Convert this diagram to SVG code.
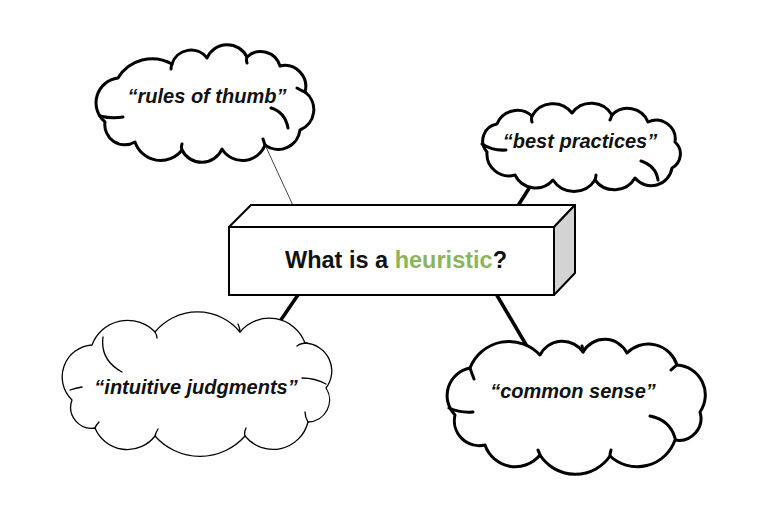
<svg xmlns="http://www.w3.org/2000/svg" width="784" height="532" viewBox="0 0 784 532">
<style>
.cloud{fill:#fff;stroke:#000;stroke-width:3;stroke-linejoin:round;stroke-linecap:round}
.cloud.thin{stroke-width:1.3}
.curl{fill:none;stroke:#000;stroke-width:3;stroke-linecap:round}
.curl.thin{stroke-width:1.3}
.lbl{font-family:"Liberation Sans",Arial,Helvetica,sans-serif;font-weight:bold;font-style:italic;font-size:20px;text-anchor:middle;fill:#111}
.title{font-family:"Liberation Sans",Arial,Helvetica,sans-serif;font-weight:bold;font-size:23.5px;text-anchor:middle;fill:#111}
.conn{stroke:#000;stroke-width:3.5;stroke-linecap:butt}
</style>
<rect width="784" height="532" fill="#fff"/>
<g id="connectors">
<line x1="266" y1="147" x2="296" y2="212" stroke="#444" stroke-width="1"/>
<line class="conn" x1="533" y1="182" x2="514" y2="212"/>
<line class="conn" x1="300" y1="292" x2="276" y2="327"/>
<line class="conn" x1="495" y1="292" x2="528" y2="348"/>
</g>
<g id="box">
<polygon points="229,227 251,205 575,205 554,227" fill="#fff" stroke="#000" stroke-width="2" stroke-linejoin="round"/>
<polygon points="554,227 575,205 575,273 554,295" fill="#d3d3d3" stroke="#000" stroke-width="2" stroke-linejoin="round"/>
<rect x="229" y="227" width="325" height="68" fill="#fff" stroke="#000" stroke-width="2"/>
<text class="title" x="396" y="268">What is a <tspan fill="#8db35e">heuristic</tspan>?</text>
</g>
<g id="cloud-rules">
<path class="cloud" d="M105,122 A25,25 0 0 1 118,78 A40,40 0 0 1 172,64 A20,20 0 0 1 207,58 A22,22 0 0 1 247,57 A20,20 0 0 1 280,66 A21,21 0 0 1 305,92 A22,22 0 0 1 300,130 A22,22 0 0 1 265,145 A24,24 0 0 1 222,149 A22,22 0 0 1 182,150 A27,27 0 0 1 135,142 A20,20 0 0 1 105,122 Z"/>
<path class="curl" d="M100,116 Q112,119 123,117 M172,64 q-1,3 -1,5 M247,57 q-1,3 0,6 M305,92 q-3,-1 -8,-4 M271,108 Q285,112 288,128 M265,145 q-1,-3 -2,-6 M182,150 q-1,-3 0,-6"/>
<text class="lbl" x="207" y="103">“rules of thumb”</text>
</g>
<g id="cloud-best">
<path class="cloud" d="M487,152 A17,17 0 0 1 497,124 A22,22 0 0 1 532,116 A24,24 0 0 1 572,113 A24,24 0 0 1 612,115 A22,22 0 0 1 648,122 A19,19 0 0 1 675,142 A16,16 0 0 1 672,168 A21,21 0 0 1 635,178 A24,24 0 0 1 595,180 A25,25 0 0 1 553,180 A23,23 0 0 1 515,175 A22,22 0 0 1 487,152 Z"/>
<path class="curl" d="M482,144 Q493,151 506,150 M532,116 q-1,3 0,6 M612,115 q-1,3 -2,5 M641,161 Q656,166 658,180 M595,180 q1,-3 1,-5"/>
<text class="lbl" x="580" y="148">“best practices”</text>
</g>
<g id="cloud-intuitive">
<path class="cloud thin" d="M72,400 A32,32 0 0 1 92,345 A38,38 0 0 1 155,332 A55,55 0 0 1 240,332 A38,38 0 0 1 305,343 A28,28 0 0 1 326,388 A22,22 0 0 1 308,422 A36,36 0 0 1 245,436 A60,60 0 0 1 155,436 A35,35 0 0 1 95,428 A21,21 0 0 1 72,400 Z"/>
<path class="curl thin" d="M103,337 Q100,360 122,372 M155,332 q2,3 2,6 M240,332 q0,-4 -2,-8 M297,346 q4,-3 10,-3 M302,378 Q315,378 326,384 M308,422 q-3,-5 -3,-10 M245,436 q-1,-4 1,-8 M155,436 q1,-4 3,-7 M95,428 q1,-3 4,-6 M70,390 q6,-2 12,-3"/>
<text class="lbl" x="196" y="394">“intuitive judgments”</text>
</g>
<g id="cloud-common">
<path class="cloud" d="M455,415 A28,28 0 0 1 470,368 A42,42 0 0 1 540,355 A25,25 0 0 1 583,352 A25,25 0 0 1 627,353 A30,30 0 0 1 677,365 A30,30 0 0 1 700,412 A22,22 0 0 1 675,440 A40,40 0 0 1 610,456 A42,42 0 0 1 540,455 A32,32 0 0 1 485,445 A25,25 0 0 1 455,415 Z"/>
<path class="curl" d="M449,408 Q460,413 473,412 M470,368 q2,6 4,11 M583,352 q0,-3 -1,-6 M677,365 q-3,2 -6,5 M650,416 Q670,420 675,438 M610,456 q0,-3 1,-6 M540,455 q-1,-3 -2,-5"/>
<text class="lbl" x="573" y="398">“common sense”</text>
</g>
</svg>
